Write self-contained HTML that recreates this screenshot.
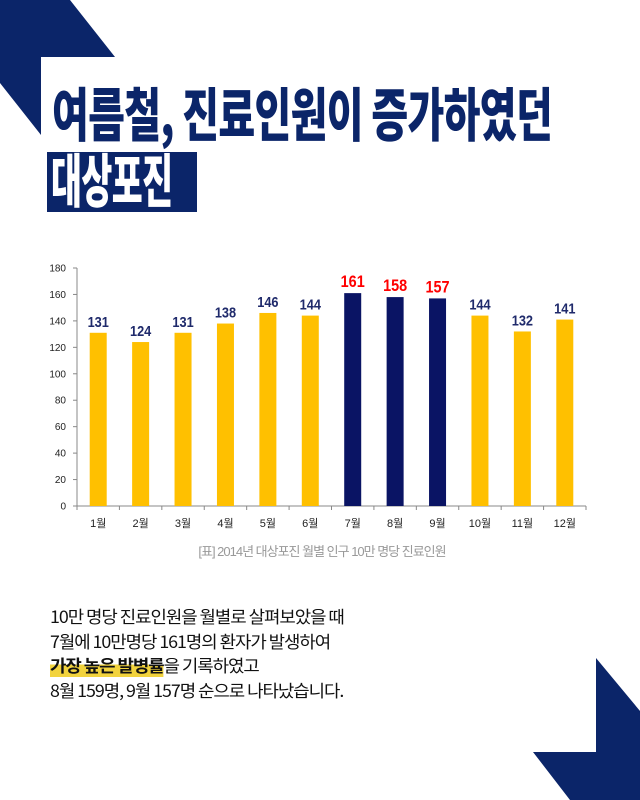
<!DOCTYPE html>
<html><head><meta charset="utf-8"><style>
body{margin:0;width:640px;height:800px;background:#fff;overflow:hidden;position:relative;font-family:"Liberation Sans","Noto Sans CJK KR",sans-serif}
.t1{position:absolute;left:52px;top:82px;font-family:"Noto Sans CJK KR",sans-serif;font-weight:900;font-size:58px;color:#0b2569;white-space:nowrap;transform:scaleX(0.69);transform-origin:left top;letter-spacing:-1px;line-height:1}
.t2{position:absolute;left:47px;top:152px;width:150px;height:60px;background:#0b2569}
.t2 span{position:absolute;left:4px;top:-9px;font-family:"Noto Sans CJK KR",sans-serif;font-weight:900;font-size:58px;color:#fff;white-space:nowrap;transform:scaleX(0.58);transform-origin:left top;line-height:1.2;letter-spacing:-1px}
.body{position:absolute;left:50px;top:604px;font-family:"Noto Sans CJK KR",sans-serif;font-size:17px;color:#111;line-height:24.5px;letter-spacing:-1px;transform:scaleX(1.05);transform-origin:left top;white-space:nowrap}
.hl{font-weight:700;background:linear-gradient(transparent 50%,#f2d33d 50%)}
</style></head><body>
<svg width="640" height="800" style="position:absolute;left:0;top:0">
<polygon points="0,0 70,0 115,57 41,57 41,135 0,83" fill="#0b2569"/>
<polygon points="596,658 640,711 640,800 570,800 533,752 596,752" fill="#0b2569"/>
</svg>
<div class="t1">여름철, 진료인원이 증가하였던</div>
<div class="t2"><span>대상포진</span></div>
<svg id="chart" width="640" height="580" style="position:absolute;left:0;top:0"></svg>
<div class="body">10만 명당 진료인원을 월별로 살펴보았을 때<br>7월에 10만명당 161명의 환자가 발생하여<br><span class="hl">가장 높은 발병률</span>을 기록하였고<br>8월 159명, 9월 157명 순으로 나타났습니다.</div>
<script>
const categories=["1월","2월","3월","4월","5월","6월","7월","8월","9월","10월","11월","12월"];
const values=[131,124,131,138,146,144,161,158,157,144,132,141];
const highlighted=[false,false,false,false,false,false,true,true,true,false,false,false];
const yTicks=[0,20,40,60,80,100,120,140,160,180];
const svg=document.getElementById('chart');
const NS='http://www.w3.org/2000/svg';
const x0=77,x1=586,yBase=506,yTop=268,yMax=180;
const band=(x1-x0)/categories.length;
const y=v=>yBase-(v/yMax)*(yBase-yTop);
const xc=i=>x0+band*(i+0.5);
function mk(t,a,txt){const e=document.createElementNS(NS,t);for(const k in a)e.setAttribute(k,a[k]);if(txt!==undefined)e.textContent=txt;svg.appendChild(e);return e;}
let ax=mk('line',{x1:x0,y1:yTop,x2:x0,y2:yBase,stroke:'#888','stroke-width':1});


let bx=mk('line',{x1:x0,y1:yBase,x2:x1,y2:yBase,stroke:'#888','stroke-width':1});


yTicks.forEach(v=>{
 mk('line',{x1:x0-4,y1:y(v),x2:x0,y2:y(v),stroke:'#888'});
 let t=mk('text',{x:x0-11,y:y(v)+3.5,'text-anchor':'end','font-size':10,fill:'#222'},v);
 
 
});
for(let i=0;i<=categories.length;i++)mk('line',{x1:x0+band*i,y1:yBase,x2:x0+band*i,y2:yBase+4,stroke:'#888'});
categories.forEach((c,i)=>{
 let r=mk('rect',{x:xc(i)-8.5,y:y(values[i]),width:17,height:yBase-y(values[i]),fill:highlighted[i]?'#0a1464':'#ffc000'});
 
 
 let l=mk('text',{x:xc(i),y:y(values[i])-6,'text-anchor':'middle','font-size':highlighted[i]?17:15,'font-weight':'bold',fill:highlighted[i]?'#ff0000':'#1f2a6b',transform:`translate(${xc(i)},0) scale(0.85,1) translate(${-xc(i)},0)`},values[i]);
 
 
 let m=mk('text',{x:xc(i),y:527,'text-anchor':'middle','font-size':11,fill:'#222'},c);
 
 
});
let cap=mk('text',{x:322,y:556,'text-anchor':'middle','font-size':13,fill:'#999','letter-spacing':'-1'},'[표] 2014년 대상포진 월별 인구 10만 명당 진료인원');


</script>
</body></html>
